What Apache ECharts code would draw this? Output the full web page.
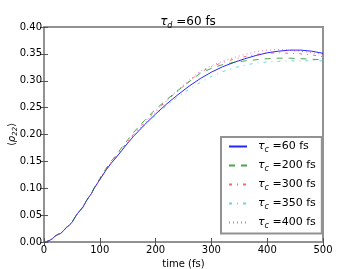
<!DOCTYPE html>
<html>
<head>
<meta charset="utf-8">
<script src="https://cdn.jsdelivr.net/npm/echarts@6/dist/echarts.min.js"></script>
<style>html,body{margin:0;padding:0;background:#fff}#c{width:360px;height:269px}</style>
</head>
<body>
<div id="c"></div>
<script>
var times = [0,5,10,15,20,25,30,35,40,45,50,55,60,65,70,75,80,85,90,95,100,110,120,
  130,140,150,160,170,180,190,200,220,240,260,280,300,320,340,360,380,400,420,440,460,480,500];
var tc60  = [0,0.001,0.003,0.006,0.011,0.014,0.016,0.021,0.027,0.031,0.036,0.045,0.053,0.059,0.065,0.075,0.083,0.090,0.100,0.108,0.116,0.132,0.146,
  0.158,0.171,0.184,0.196,0.207,0.218,0.228,0.238,0.257,0.274,0.290,0.304,0.316,0.326,0.334,0.341,0.347,0.352,0.355,0.357,0.357,0.355,0.351];
var tc200 = [0,0.001,0.003,0.006,0.011,0.014,0.016,0.021,0.027,0.031,0.036,0.045,0.053,0.059,0.066,0.075,0.083,0.091,0.101,0.109,0.118,0.135,0.150,
  0.162,0.177,0.190,0.203,0.215,0.226,0.237,0.247,0.265,0.282,0.298,0.314,0.323,0.330,0.334,0.337,0.339,0.341,0.342,0.342,0.341,0.340,0.339];
var tc300 = [0,0.001,0.003,0.006,0.011,0.014,0.016,0.021,0.027,0.031,0.036,0.045,0.053,0.059,0.065,0.075,0.083,0.090,0.100,0.108,0.117,0.133,0.148,
  0.160,0.174,0.187,0.200,0.212,0.223,0.234,0.244,0.263,0.281,0.299,0.316,0.326,0.334,0.340,0.345,0.349,0.351,0.352,0.351,0.350,0.348,0.345];
var tc350 = [0,0.001,0.003,0.006,0.011,0.014,0.016,0.021,0.027,0.031,0.036,0.045,0.053,0.059,0.065,0.075,0.083,0.090,0.100,0.108,0.116,0.132,0.146,
  0.158,0.171,0.184,0.196,0.207,0.217,0.227,0.236,0.254,0.270,0.284,0.297,0.308,0.317,0.324,0.329,0.333,0.335,0.336,0.337,0.337,0.337,0.337];
var tc400 = [0,0.001,0.003,0.006,0.011,0.014,0.016,0.021,0.027,0.031,0.036,0.045,0.053,0.059,0.065,0.075,0.083,0.090,0.100,0.108,0.117,0.133,0.147,
  0.159,0.172,0.185,0.198,0.210,0.221,0.232,0.242,0.263,0.283,0.301,0.318,0.328,0.336,0.343,0.349,0.354,0.357,0.358,0.357,0.355,0.352,0.349];
var seriesNames = ['60','200','300','350','400'];
var xTicks = [0,100,200,300,400,500];
var yTicks = ['0.00','0.05','0.10','0.15','0.20','0.25','0.30','0.35','0.40'];

function pairs(ys){ return times.map(function(t,i){ return [t, ys[i]]; }); }
var allData = [tc60, tc200, tc300, tc350, tc400];
var colors = ['#0000ff','#008000','#ff0000','#00bfbf','#bf00bf'];
var dashes = ['solid',[6,6],[3,5,1,5],[3,5,1,5],[1,3]];
var opac = [0.85,0.7,0.6,0.6,0.55];

var series = allData.map(function(d,i){
  return {
    name: seriesNames[i], type:'line', data: pairs(d), symbol:'none', smooth:false,
    lineStyle:{color:colors[i], width:1, type:dashes[i], opacity:opac[i]},
    itemStyle:{color:colors[i], opacity:opac[i]}
  };
});

var chart = echarts.init(document.getElementById('c'));
var font = 'DejaVu Sans';
chart.setOption({
  animation:false,
  title:{
    text:'{t|τ}{s|d}{n| =60 fs}', left:183, top:9, textAlign:'center',
    textStyle:{ fontWeight:'normal', rich:{
      t:{fontFamily:font, fontStyle:'italic', fontWeight:'normal', fontSize:12, color:'#000', lineHeight:16, verticalAlign:'middle'},
      s:{fontFamily:font, fontStyle:'italic', fontWeight:'normal', fontSize:8, color:'#000', lineHeight:16, verticalAlign:'bottom', padding:[6,0,0,0]},
      n:{fontFamily:font, fontWeight:'normal', fontSize:12, color:'#000', lineHeight:16, verticalAlign:'middle'}
    }}
  },
  grid:{left:44, right:37, top:27, bottom:27, outerBoundsMode:'none', containLabel:false,
    show:true, borderColor:'#929292', borderWidth:2, backgroundColor:'transparent'},
  legend:{
    orient:'vertical', left:221, top:137, width:97,
    backgroundColor:'#fff', borderColor:'#929292', borderWidth:2, borderRadius:0,
    padding:[4,6,4,7], itemWidth:18, itemHeight:12, itemGap:6.5,
    itemStyle:{opacity:0},
    data: seriesNames,
    formatter:function(n){ return '{t|τ}{s|c}{n| =' + n + ' fs}'; },
    textStyle:{ padding:[0,0,0,6], rich:{
      t:{fontFamily:font, fontStyle:'italic', fontSize:11, color:'#000', lineHeight:14},
      s:{fontFamily:font, fontStyle:'italic', fontSize:8, color:'#000', lineHeight:14, verticalAlign:'bottom'},
      n:{fontFamily:font, fontSize:11, color:'#000', lineHeight:14}
    }}
  },
  xAxis:[{
    type:'value', min:0, max:500, interval:100, position:'bottom',
    name:'time (fs)', nameLocation:'middle', nameGap:14,
    nameTextStyle:{fontFamily:font, fontSize:10, color:'#000'},
    axisLine:{show:false}, splitLine:{show:false},
    axisTick:{inside:true, length:4, lineStyle:{color:'#555'}},
    axisLabel:{fontFamily:font, fontSize:10, color:'#000', margin:3,
      formatter:function(v){ return xTicks.indexOf(v)>=0 ? String(v) : ''; }}
  },{
    type:'value', min:0, max:500, interval:100, position:'top',
    axisLine:{show:false}, splitLine:{show:false}, axisLabel:{show:false},
    axisTick:{inside:true, length:4, lineStyle:{color:'#555'}}
  }],
  yAxis:[{
    type:'value', min:0, max:0.4, interval:0.05, position:'left',
    name:'{a|⟨}{r|ρ}{s|22}{a|⟩}', nameLocation:'middle', nameGap:25, nameRotate:90,
    nameMoveOverlap:false,
    nameTextStyle:{ rich:{
      a:{fontFamily:font, fontSize:10, color:'#000', lineHeight:14},
      r:{fontFamily:font, fontStyle:'italic', fontSize:10, color:'#000', lineHeight:14},
      s:{fontFamily:font, fontStyle:'italic', fontSize:7, color:'#000', lineHeight:14, verticalAlign:'bottom'}
    }},
    axisLine:{show:false}, splitLine:{show:false},
    axisTick:{inside:true, length:4, lineStyle:{color:'#555'}},
    axisLabel:{fontFamily:font, fontSize:10, color:'#000', margin:2,
      formatter:function(v){ var i=Math.round(v/0.05); return yTicks[i]; }}
  },{
    type:'value', min:0, max:0.4, interval:0.05, position:'right',
    axisLine:{show:false}, splitLine:{show:false}, axisLabel:{show:false},
    axisTick:{inside:true, length:4, lineStyle:{color:'#555'}}
  }],
  series: series
});
</script>
</body>
</html>
